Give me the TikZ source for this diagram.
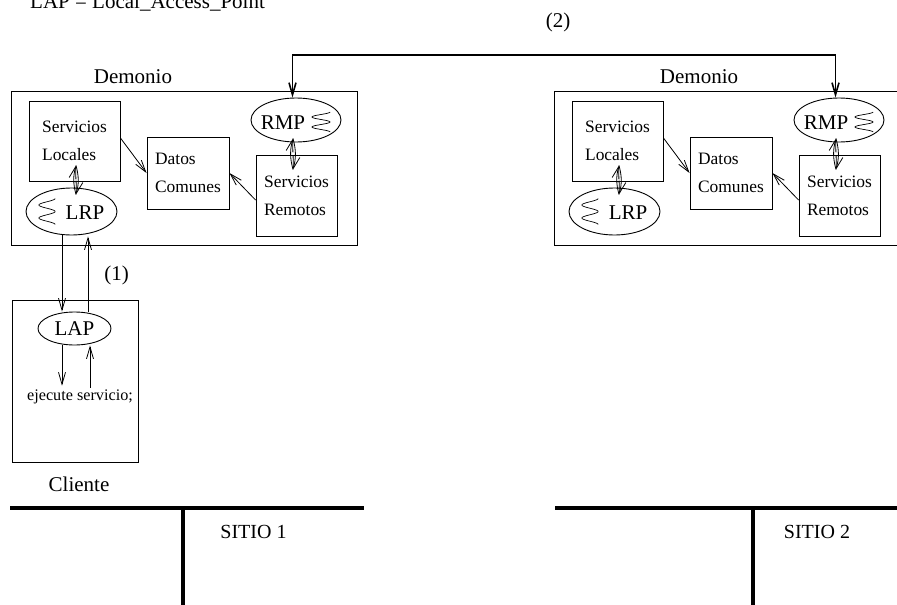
\documentclass[tikz,border=0pt]{standalone}
\usepackage{fontspec}
\setmainfont{Liberation Serif}
\usetikzlibrary{arrows.meta,calc,shapes.geometric}

\tikzset{
  x=1pt, y=-1pt,
  box/.style={draw, line width=0.9pt, rectangle, inner sep=0pt, align=left,
              font=\fontsize{17.4}{28}\selectfont},
  proc/.style={draw, line width=0.9pt, ellipse, inner sep=0pt},
  big/.style={font=\fontsize{21}{25}\selectfont},
  tip/.style={line width=0.8pt, -{Straight Barb[length=12pt,width=7pt]}},
  tipboth/.style={line width=1.6pt,
    {Straight Barb[length=12pt,width=7pt]}-{Straight Barb[length=12pt,width=7pt]}},
  site/.style={line width=3.5pt},
  coil/.pic={\draw[line width=0.7pt] plot[domain=0:720, samples=97, smooth, variable=\t]
      ({9*cos(\t)}, {-10+20*\t/720});}
}

% One daemon: #1 name prefix, #2 horizontal offset, #3 x of its title
\newcommand\demonioblock[3]{%
  \node[box, minimum width=346pt, minimum height=154pt] (#1dem) at ({#2+184},168) {};
  \node[big] (#1title) at ({#2+#3},77) {Demonio};
  \node[box, minimum width=91pt, minimum height=80pt] (#1loc) at ({#2+74.5},141) {Servicios\\Locales};
  \node[box, minimum width=82pt, minimum height=72pt] (#1dat) at ({#2+188},173) {Datos\\Comunes};
  \node[box, minimum width=81pt, minimum height=81pt] (#1rem) at ({#2+296.5},195.5) {Servicios\\Remotos};
  \node[proc, minimum width=90pt, minimum height=44pt] (#1rmp) at ({#2+296},120) {};
  \node[big] (#1rmptxt) at ({#2+283},123) {RMP};
  \pic at ({#2+321},122) {coil};
  \node[proc, minimum width=91pt, minimum height=47pt] (#1lrp) at ({#2+71.5},211.5) {};
  \node[big] (#1lrptxt) at ({#2+85},213) {LRP};
  \pic[yscale=1.3, xscale=0.9] at ({#2+47},211.5) {coil};
  % local and remote services feed the common data
  \draw[tip] ($(#1loc.east)+(0,-3)$) -- (#1dat.west);
  \draw[tip] ($(#1rem.west)+(0,4.5)$) -- (#1dat.east);
  % two-way links
  \coordinate (#1lu) at ($(#1loc.south)+(1.5,-16)$);
  \coordinate (#1ld) at ($(#1lrp.north)+(4.5,7)$);
  \draw[tip] (#1lu) to[bend left=15] (#1ld);
  \draw[tip] (#1ld) to[bend left=15] (#1lu);
  \coordinate (#1ru) at ($(#1rmp.south)+(-3,-4)$);
  \coordinate (#1rd) at ($(#1rem.north)+(-3.5,15)$);
  \draw[tip] (#1ru) to[bend left=15] (#1rd);
  \draw[tip] (#1rd) to[bend left=15] (#1ru);
}

\begin{document}
\begin{tikzpicture}
\useasboundingbox (0,0) rectangle (897,605);

\node[big, anchor=base west, inner sep=0pt] (legend) at (30,9) {LAP = Local\_Access\_Point};

\demonioblock{L}{0}{133}
\demonioblock{R}{543}{156}

% link between the two remote message processes
\node[big] (two) at (558,22) {(2)};
\coordinate (bus) at (560,55);
\draw[tipboth] ($(Lrmp.north)+(-3.5,0)$) |- (bus) -| ($(Rrmp.north)+(-3.5,0)$);

% client
\node[box, minimum width=126pt, minimum height=162pt] (cli) at (75,381) {};
\node[big] (clilbl) at (79,484) {Cliente};
\node[proc, big, minimum width=73pt, minimum height=33pt] (lap) at (74.5,328.5) {LAP};
\node[big] (one) at (116.5,275) {(1)};
\node[font=\fontsize{16.2}{19}\selectfont, inner sep=0pt] (ej) at (80,397) {ejecute servicio;};
\coordinate (xa) at (62,0);
\coordinate (xb) at (88,0);
\coordinate (xc) at (90,0);
\draw[tip] (Llrp.south -| xa) -- (lap.north -| xa);
\draw[tip] (lap.north -| xb) -- ($(Llrp.south -| xb)+(0,1)$);
\draw[tip] (lap.south -| xa) -- ($(ej.north -| xa)+(0,-4)$);
\draw[tip] ($(ej.north -| xc)+(0,-2)$) -- (lap.south -| xc);

% sites
\coordinate (s1w) at (10,508);
\coordinate (s1e) at (364,508);
\coordinate (s1t) at (183,508);
\coordinate (s1b) at (183,610);
\draw[site] (s1w) -- (s1e);
\draw[site] (s1t) -- (s1b);
\node[font=\fontsize{20}{24}\selectfont] (site1) at (253.5,532) {SITIO 1};

\coordinate (s2w) at (555,508);
\coordinate (s2e) at (900,508);
\coordinate (s2t) at (753,508);
\coordinate (s2b) at (753,610);
\draw[site] (s2w) -- (s2e);
\draw[site] (s2t) -- (s2b);
\node[font=\fontsize{20}{24}\selectfont] (site2) at (817,532) {SITIO 2};
\end{tikzpicture}
\end{document}
